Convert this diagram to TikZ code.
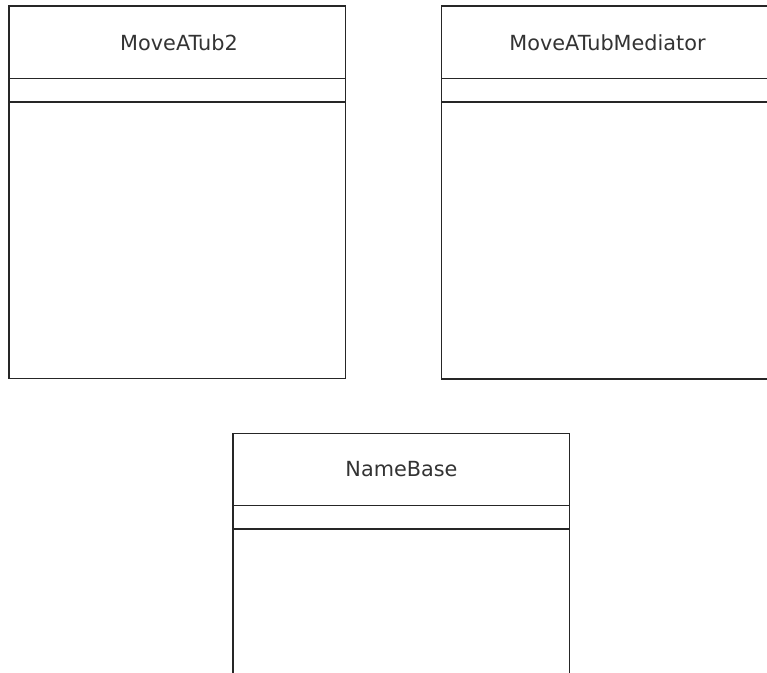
\documentclass[tikz,border=0pt]{standalone}
\usepackage{fontspec}
\setmainfont{DejaVu Sans}
\begin{document}
\begin{tikzpicture}[x=0.75pt,y=-0.75pt,
  boxline/.style={draw=black!85,line width=0.95pt},
  classname/.style={font=\fontsize{15.6pt}{18pt}\selectfont,text=black!80,inner sep=0pt}]
\useasboundingbox (0,0) rectangle (767,672);
\clip (0,0) rectangle (767,672);
% MoveATub2
\draw[boxline] (9,6) rectangle (345.5,378.5);
\draw[boxline] (9,78.5) -- (345.5,78.5);
\draw[boxline] (9,102) -- (345.5,102);
\node[classname] (n1) at (179,42.5) {MoveATub2};
% MoveATubMediator
\draw[boxline] (441.5,6) rectangle (777.5,379);
\draw[boxline] (441.5,78.5) -- (777.5,78.5);
\draw[boxline] (441.5,102) -- (777.5,102);
\node[classname] (n2) at (607.5,42.5) {MoveATubMediator};
% NameBase
\draw[boxline] (233,433.5) rectangle (569.5,700);
\draw[boxline] (233,505.5) -- (569.5,505.5);
\draw[boxline] (233,529) -- (569.5,529);
\node[classname] (n3) at (401.5,469.5) {NameBase};
\end{tikzpicture}
\end{document}
